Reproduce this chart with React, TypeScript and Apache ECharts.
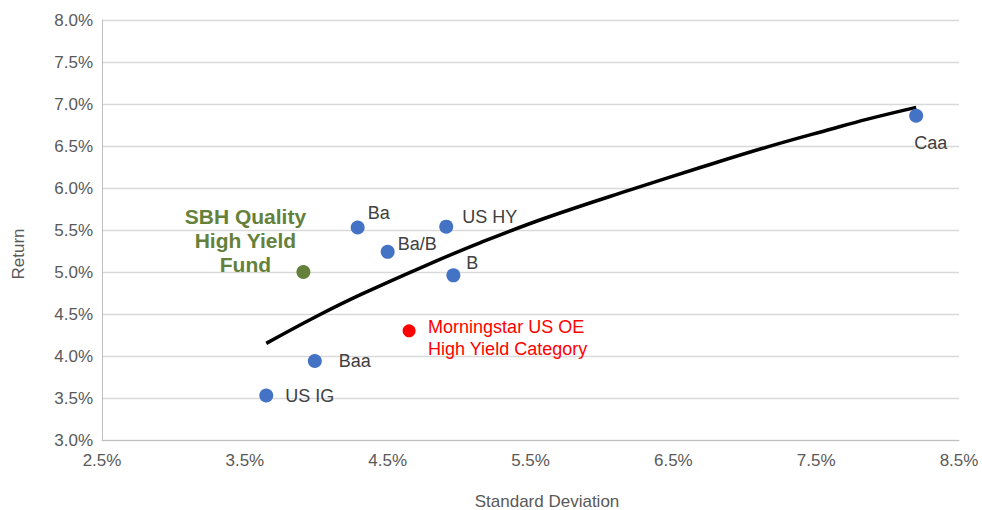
import React, { useEffect, useRef } from "react";
import * as echarts from "echarts";

// ---- Data ----
const ratingNames = ["US IG", "Baa", "Ba", "Ba/B", "US HY", "B", "Caa"];
const ratingStdDev = [3.65, 3.99, 4.29, 4.5, 4.91, 4.96, 8.2];
const ratingReturn = [3.53, 3.94, 5.53, 5.24, 5.54, 4.96, 6.86];

const fundNames = ["SBH Quality\nHigh Yield\nFund"];
const fundStdDev = [3.91];
const fundReturn = [5.0];

const categoryNames = ["Morningstar US OE\nHigh Yield Category"];
const categoryStdDev = [4.65];
const categoryReturn = [4.3];

const trendStdDev = [3.65, 4.0, 4.31, 4.77, 5.15, 5.6, 6.22, 6.7, 7.16, 7.6, 7.86, 8.2];
const trendReturn = [4.15, 4.47, 4.73, 5.08, 5.35, 5.64, 5.99, 6.25, 6.49, 6.7, 6.82, 6.96];

const xTicks = [2.5, 3.5, 4.5, 5.5, 6.5, 7.5, 8.5];
const yTicks = [3.0, 3.5, 4.0, 4.5, 5.0, 5.5, 6.0, 6.5, 7.0, 7.5, 8.0];

const xAxisTitle = "Standard Deviation";
const yAxisTitle = "Return";

// ---- Styles ----
const FONT = "'Liberation Sans', Arial, sans-serif";
const GRAY_TEXT = "#595959";
const LABEL_TEXT = "#404040";
const BLUE = "#4472C4";
const GREEN = "#63813A";
const RED = "#FF0000";
const SYM = 14;

// label offsets: [dx of text anchor from dot centre, dy of text centre from dot centre, align]
const ratingLabelOffsets: [number, number, string][] = [
  [19, 1, "left"],
  [24, 0, "left"],
  [10, -14, "left"],
  [10, -8, "left"],
  [16, -10, "left"],
  [13, -12, "left"],
  [-2, 27, "left"],
];

export default function App() {
  const ref = useRef<HTMLDivElement>(null);

  useEffect(() => {
    document.body.style.margin = "0";
    if (!ref.current) return;
    const chart = echarts.init(ref.current, undefined, { renderer: "svg" });

    const ratingData = ratingNames.map((n, i) => {
      const [dx, dy, align] = ratingLabelOffsets[i];
      return {
        name: n,
        value: [ratingStdDev[i], ratingReturn[i]],
        label: {
          show: true,
          formatter: n,
          position: [SYM / 2 + dx, SYM / 2 + dy],
          align,
          verticalAlign: "middle",
        },
      };
    });

    const fundData = fundNames.map((n, i) => ({
      name: n,
      value: [fundStdDev[i], fundReturn[i]],
      label: {
        show: true,
        formatter: n,
        position: [SYM / 2 - 58, SYM / 2 - 32],
        align: "center",
        verticalAlign: "middle",
      },
    }));

    const categoryData = categoryNames.map((n, i) => ({
      name: n,
      value: [categoryStdDev[i], categoryReturn[i]],
      label: {
        show: true,
        formatter: n,
        position: [13 / 2 + 19, 13 / 2 + 7],
        align: "left",
        verticalAlign: "middle",
      },
    }));

    const option: any = {
      animation: false,
      backgroundColor: "#ffffff",
      textStyle: { fontFamily: FONT },
      grid: { left: 102, right: 23, top: 20, bottom: 70, containLabel: false },
      xAxis: {
        type: "value",
        min: xTicks[0],
        max: xTicks[xTicks.length - 1],
        interval: 1,
        axisLine: { show: true, lineStyle: { color: "#BFBFBF", width: 1 } },
        axisTick: { show: false },
        splitLine: { show: false },
        axisLabel: {
          color: GRAY_TEXT,
          fontSize: 17,
          fontFamily: FONT,
          margin: 12,
          formatter: (v: number) => v.toFixed(1) + "%",
        },
      },
      yAxis: {
        type: "value",
        min: yTicks[0],
        max: yTicks[yTicks.length - 1],
        interval: 0.5,
        axisLine: { show: true, lineStyle: { color: "#BFBFBF", width: 1 } },
        axisTick: { show: false },
        splitLine: { show: true, lineStyle: { color: "#D9D9D9", width: 1.3 } },
        axisLabel: {
          color: GRAY_TEXT,
          fontSize: 17,
          fontFamily: FONT,
          margin: 9,
          formatter: (v: number) => v.toFixed(1) + "%",
        },
      },
      graphic: [
        {
          type: "text",
          x: 547,
          y: 501,
          style: {
            text: xAxisTitle,
            fill: GRAY_TEXT,
            font: `17px ${FONT}`,
            textAlign: "center",
            textVerticalAlign: "middle",
          },
        },
        {
          type: "text",
          x: 18,
          y: 254,
          rotation: Math.PI / 2,
          style: {
            text: yAxisTitle,
            fill: GRAY_TEXT,
            font: `17px ${FONT}`,
            textAlign: "center",
            textVerticalAlign: "middle",
          },
        },
      ],
      series: [
        {
          name: "Trend",
          type: "line",
          data: trendStdDev.map((x, i) => [x, trendReturn[i]]),
          smooth: 0.4,
          showSymbol: false,
          symbol: "none",
          lineStyle: { color: "#000000", width: 3.5 },
          z: 1,
          silent: true,
        },
        {
          name: "Ratings",
          type: "scatter",
          symbolSize: SYM,
          itemStyle: { color: BLUE, opacity: 1 },
          label: { color: LABEL_TEXT, fontSize: 18, fontFamily: FONT },
          data: ratingData,
          z: 3,
        },
        {
          name: "Fund",
          type: "scatter",
          symbolSize: SYM,
          itemStyle: { color: GREEN, opacity: 1 },
          label: {
            color: GREEN,
            fontSize: 21,
            fontWeight: "bold",
            fontFamily: FONT,
            lineHeight: 24,
          },
          data: fundData,
          z: 3,
        },
        {
          name: "Category",
          type: "scatter",
          symbolSize: 13,
          itemStyle: { color: RED, opacity: 1 },
          label: {
            color: RED,
            fontSize: 18,
            fontFamily: FONT,
            lineHeight: 22,
          },
          data: categoryData,
          z: 3,
        },
      ],
    };

    chart.setOption(option);
    return () => chart.dispose();
  }, []);

  return <div ref={ref} style={{ width: 982, height: 510 }} />;
}
